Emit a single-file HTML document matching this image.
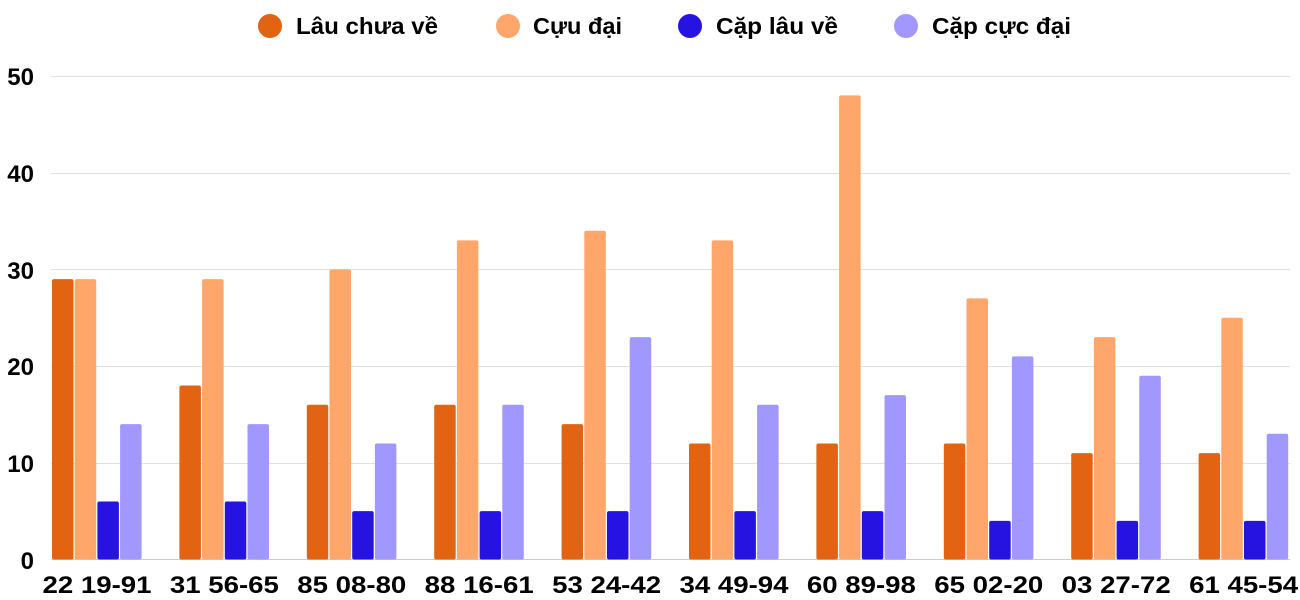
<!DOCTYPE html>
<html><head><meta charset="utf-8"><style>
html,body{margin:0;padding:0;background:#fff;}
svg{display:block;font-family:"Liberation Sans",sans-serif;font-weight:bold;}
</style></head><body>
<svg width="1300" height="600" xmlns="http://www.w3.org/2000/svg">
<g fill="#000" font-size="23">
<circle cx="270" cy="26" r="12" fill="#E26311"/><text x="296" y="34" textLength="142" lengthAdjust="spacingAndGlyphs">Lâu chưa về</text>
<circle cx="508" cy="26" r="12" fill="#FFA66B"/><text x="533" y="34" textLength="89" lengthAdjust="spacingAndGlyphs">Cựu đại</text>
<circle cx="690" cy="26" r="12" fill="#2613E2"/><text x="716" y="34" textLength="122" lengthAdjust="spacingAndGlyphs">Cặp lâu về</text>
<circle cx="906" cy="26" r="12" fill="#A097FF"/><text x="932" y="34" textLength="139" lengthAdjust="spacingAndGlyphs">Cặp cực đại</text>
</g>
<g stroke="#e0e0e0" stroke-width="1">
<line x1="51" x2="1290" y1="76.5" y2="76.5"/>
<line x1="51" x2="1290" y1="173.5" y2="173.5"/>
<line x1="51" x2="1290" y1="269.5" y2="269.5"/>
<line x1="51" x2="1290" y1="366.5" y2="366.5"/>
<line x1="51" x2="1290" y1="463.5" y2="463.5"/>
<line x1="51" x2="1290" y1="559.5" y2="559.5" stroke="#ccc"/>
</g>
<g font-size="24" text-anchor="end" fill="#000">
<text x="34" y="85">50</text><text x="34" y="182">40</text><text x="34" y="279">30</text>
<text x="34" y="375">20</text><text x="34" y="472">10</text><text x="34" y="569">0</text>
</g>
<g id="bars"></g>
<g id="labels" font-size="24" text-anchor="middle" fill="#000"></g>
<script>
var d=[[29,29,6,14],[18,29,6,14],[16,30,5,12],[16,33,5,16],[14,34,5,23],[12,33,5,16],[12,48,5,17],[12,27,4,21],[11,23,4,19],[11,25,4,13]];
var L=["22 19-91","31 56-65","85 08-80","88 16-61","53 24-42","34 49-94","60 89-98","65 02-20","03 27-72","61 45-54"];
var c=["#E26311","#FFA66B","#2613E2","#A097FF"];
var ns="http://www.w3.org/2000/svg",b=document.getElementById("bars"),l=document.getElementById("labels");
for(var i=0;i<10;i++){var x0=52+127.4*i;
for(var j=0;j<4;j++){var h=d[i][j]*9.67,r=document.createElementNS(ns,"rect");
r.setAttribute("x",x0+j*22.7);r.setAttribute("y",559.5-h);r.setAttribute("width",21.5);r.setAttribute("height",h);
r.setAttribute("rx",2);r.setAttribute("fill",c[j]);b.appendChild(r);}
var t=document.createElementNS(ns,"text");t.setAttribute("x",x0+45);t.setAttribute("y",593);
t.setAttribute("textLength",109);t.setAttribute("lengthAdjust","spacingAndGlyphs");t.textContent=L[i];l.appendChild(t);}
</script>
</svg>
</body></html>
